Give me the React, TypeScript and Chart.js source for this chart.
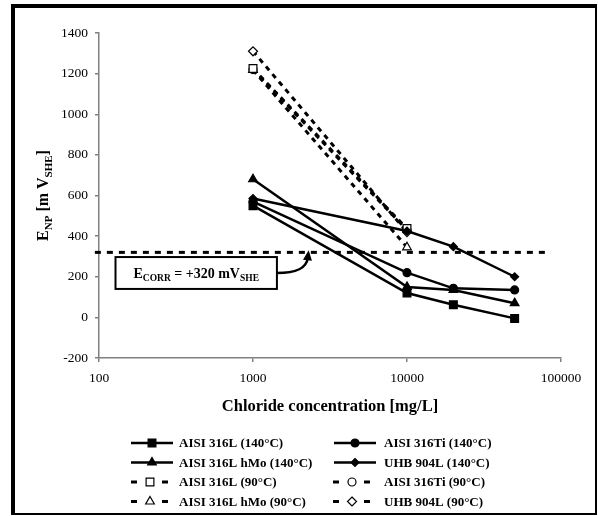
import React, { useEffect, useRef } from "react";
import { Chart, registerables } from "chart.js";
Chart.register(...registerables);

const FONT = '"Liberation Serif", "Times New Roman", Times, serif';

// ---- data ----
const xTickValues = [100, 1000, 10000, 100000];
const conc140 = [1000, 10000, 20000, 50000];
const conc90 = [1000, 10000];

const aisi316L_140 = [550, 120, 62, -5];
const aisi316Ti_140 = [570, 220, 143, 135];
const aisi316LhMo_140 = [680, 150, 135, 70];
const uhb904L_140 = [585, 425, 348, 200];

const aisi316L_90 = [1225, 437];
const aisi316Ti_90 = [1220, 430];
const aisi316LhMo_90 = [1218, 345];
const uhb904L_90 = [1310, 420];

const seriesLabels = [
  "AISI 316L (140°C)",
  "AISI 316Ti (140°C)",
  "AISI 316L hMo (140°C)",
  "UHB 904L (140°C)",
  "AISI 316L (90°C)",
  "AISI 316Ti (90°C)",
  "AISI 316L hMo (90°C)",
  "UHB 904L (90°C)",
];

const E_CORR = 320;
const eCorrSpan = [94, 86000];
const annotBoxX = [128, 1430];
const annotBoxY = [140, 297];
const arrowTip = { x: 2300, y: 330 };

type Marker = "rect" | "circle" | "triangle" | "rectRot";

function drawMarker(ctx: CanvasRenderingContext2D, style: Marker, x: number, y: number, r: number, filled: boolean) {
  ctx.save();
  ctx.beginPath();
  if (style === "rect") {
    const h = r * Math.SQRT1_2;
    ctx.rect(x - h, y - h, 2 * h, 2 * h);
  } else if (style === "circle") {
    ctx.arc(x, y, r, 0, Math.PI * 2);
  } else if (style === "triangle") {
    let a = 0;
    ctx.moveTo(x + Math.sin(a) * r, y - Math.cos(a) * r);
    a += (2 * Math.PI) / 3;
    ctx.lineTo(x + Math.sin(a) * r, y - Math.cos(a) * r);
    a += (2 * Math.PI) / 3;
    ctx.lineTo(x + Math.sin(a) * r, y - Math.cos(a) * r);
    ctx.closePath();
  } else {
    ctx.moveTo(x, y - r);
    ctx.lineTo(x + r, y);
    ctx.lineTo(x, y + r);
    ctx.lineTo(x - r, y);
    ctx.closePath();
  }
  ctx.fillStyle = filled ? "#000" : "#fff";
  ctx.fill();
  ctx.lineWidth = 1.2;
  ctx.strokeStyle = "#000";
  ctx.stroke();
  ctx.restore();
}

type Part = { t: string; s: number; dy: number };
function drawRich(ctx: CanvasRenderingContext2D, parts: Part[], cx: number, cy: number, mainSize: number) {
  let total = 0;
  const widths = parts.map((p) => {
    ctx.font = `bold ${p.s}px ${FONT}`;
    const w = ctx.measureText(p.t).width;
    total += w;
    return w;
  });
  let x = cx - total / 2;
  const base = cy + mainSize * 0.33;
  ctx.textBaseline = "alphabetic";
  ctx.textAlign = "left";
  ctx.fillStyle = "#000";
  parts.forEach((p, i) => {
    ctx.font = `bold ${p.s}px ${FONT}`;
    ctx.fillText(p.t, x, base + p.dy);
    x += widths[i];
  });
}

export default function App() {
  const ref = useRef<HTMLCanvasElement>(null);

  useEffect(() => {
    const canvas = ref.current!;
    const styles: Marker[] = ["rect", "circle", "triangle", "rectRot"];
    const radii = [5.5, 4, 5, 4];
    const radii90 = [5.5, 4, 5, 4.5];
    const vals140 = [aisi316L_140, aisi316Ti_140, aisi316LhMo_140, uhb904L_140];
    const vals90 = [aisi316L_90, aisi316Ti_90, aisi316LhMo_90, uhb904L_90];

    const mk = (label: string, xs: number[], ys: number[], style: Marker, filled: boolean, dashed: boolean, r: number) => ({
      label,
      data: xs.map((x, i) => ({ x, y: ys[i] })),
      borderColor: "#000",
      backgroundColor: filled ? "#000" : "#fff",
      borderWidth: dashed ? 3 : 2.5,
      borderDash: dashed ? [5, 5] : [],
      pointStyle: style,
      pointRadius: r,
      pointBorderWidth: 1.2,
      pointBorderColor: "#000",
      pointBackgroundColor: filled ? "#000" : "#fff",
      tension: 0,
      fill: false,
    });

    const datasets: any[] = [];
    for (let i = 0; i < 4; i++) datasets.push(mk(seriesLabels[i], conc140, vals140[i], styles[i], true, false, radii[i]));
    for (let i = 0; i < 4; i++) datasets.push(mk(seriesLabels[4 + i], conc90, vals90[i], styles[i], false, true, radii90[i]));
    datasets.push({
      label: "E_CORR",
      data: eCorrSpan.map((x) => ({ x, y: E_CORR })),
      borderColor: "#000",
      borderWidth: 3,
      borderDash: [6, 6],
      pointRadius: 0,
      clip: 20,
      fill: false,
    });

    const legendItems = seriesLabels.map((label, i) => ({
      label,
      style: styles[i % 4],
      filled: i < 4,
      dashed: i >= 4,
      r: i < 4 ? radii[i % 4] : radii90[i % 4],
    }));

    const custom = {
      id: "custom",
      afterDraw(chart: any) {
        const ctx: CanvasRenderingContext2D = chart.ctx;
        const xs = chart.scales.x;
        const ys = chart.scales.y;
        ctx.save();

        // y-axis title
        ctx.save();
        ctx.translate(43, (chart.chartArea.top + chart.chartArea.bottom) / 2);
        ctx.rotate(-Math.PI / 2);
        drawRich(
          ctx,
          [
            { t: "E", s: 16, dy: 0 },
            { t: "NP", s: 11, dy: 4 },
            { t: " [m V", s: 16, dy: 0 },
            { t: "SHE", s: 11, dy: 4 },
            { t: "]", s: 16, dy: 0 },
          ],
          0,
          0,
          16
        );
        ctx.restore();

        // annotation box
        const bx0 = xs.getPixelForValue(annotBoxX[0]);
        const bx1 = xs.getPixelForValue(annotBoxX[1]);
        const by0 = ys.getPixelForValue(annotBoxY[1]);
        const by1 = ys.getPixelForValue(annotBoxY[0]);
        ctx.fillStyle = "#fff";
        ctx.fillRect(bx0, by0, bx1 - bx0, by1 - by0);
        ctx.lineWidth = 2;
        ctx.strokeStyle = "#000";
        ctx.strokeRect(bx0, by0, bx1 - bx0, by1 - by0);
        drawRich(
          ctx,
          [
            { t: "E", s: 14, dy: 0 },
            { t: "CORR", s: 9.5, dy: 3 },
            { t: " = +320 mV", s: 14, dy: 0 },
            { t: "SHE", s: 9.5, dy: 3 },
          ],
          (bx0 + bx1) / 2,
          (by0 + by1) / 2,
          14
        );

        // arrow
        const sx = bx1;
        const sy = (by0 + by1) / 2;
        const tx = xs.getPixelForValue(arrowTip.x);
        const ty = ys.getPixelForValue(arrowTip.y);
        const ex = tx - 1;
        const ey = ty + 8;
        ctx.beginPath();
        ctx.moveTo(sx, sy);
        ctx.quadraticCurveTo(tx - 3, sy, ex, ey);
        ctx.lineWidth = 2.5;
        ctx.stroke();
        const ang = Math.atan2(ty - ey, tx - ex);
        const px = Math.cos(ang + Math.PI / 2) * 4.5;
        const py = Math.sin(ang + Math.PI / 2) * 4.5;
        const bxx = tx - Math.cos(ang) * 10;
        const byy = ty - Math.sin(ang) * 10;
        ctx.beginPath();
        ctx.moveTo(tx, ty);
        ctx.lineTo(bxx + px, byy + py);
        ctx.lineTo(bxx - px, byy - py);
        ctx.closePath();
        ctx.fillStyle = "#000";
        ctx.fill();

        // legend
        const rows = [443, 462.5, 482, 501.5];
        const cols = [
          { l0: 131, l1: 173, m: 152, d: [131, 137, 162, 168], dm: 150, tx: 179 },
          { l0: 334, l1: 376, m: 355, d: [333, 339, 364, 370], dm: 352, tx: 384 },
        ];
        legendItems.forEach((it, i) => {
          const row = rows[Math.floor(i / 2)];
          const c = cols[i % 2];
          ctx.strokeStyle = "#000";
          ctx.lineWidth = it.dashed ? 3 : 2.5;
          ctx.beginPath();
          if (it.dashed) {
            ctx.moveTo(c.d[0], row);
            ctx.lineTo(c.d[1], row);
            ctx.moveTo(c.d[2], row);
            ctx.lineTo(c.d[3], row);
          } else {
            ctx.moveTo(c.l0, row);
            ctx.lineTo(c.l1, row);
          }
          ctx.stroke();
          drawMarker(ctx, it.style, it.dashed ? c.dm : c.m, row, it.r, it.filled);
          ctx.font = `bold 13px ${FONT}`;
          ctx.fillStyle = "#000";
          ctx.textAlign = "left";
          ctx.textBaseline = "middle";
          ctx.fillText(it.label, c.tx, row + 1);
        });

        ctx.restore();
      },
    };

    const chart = new Chart(canvas, {
      type: "line",
      data: { datasets },
      plugins: [custom],
      options: {
        responsive: false,
        devicePixelRatio: 1,
        animation: false,
        layout: { padding: { left: 0, right: 37, top: 33, bottom: 96 } },
        plugins: { legend: { display: false }, tooltip: { enabled: false } },
        scales: {
          x: {
            type: "logarithmic",
            min: 100,
            max: 100000,
            afterBuildTicks: (axis: any) => {
              axis.ticks = xTickValues.map((v) => ({ value: v }));
            },
            afterFit: (s: any) => {
              s.height = 62;
            },
            ticks: {
              callback: (v: any) => String(v),
              font: { family: FONT, size: 13.5 },
              color: "#000",
              padding: 8,
              maxRotation: 0,
              autoSkip: false,
            },
            grid: { display: true, drawOnChartArea: false, drawTicks: true, tickLength: 4, tickColor: "#808080", lineWidth: 1.5 },
            border: { display: true, color: "#808080", width: 1.5 },
            title: {
              display: true,
              text: "Chloride concentration [mg/L]",
              font: { family: FONT, size: 16.5, weight: "bold" },
              color: "#000",
              padding: { top: 0, bottom: 3 },
            },
          },
          y: {
            type: "linear",
            min: -200,
            max: 1400,
            afterFit: (s: any) => {
              s.width = 99;
            },
            ticks: {
              stepSize: 200,
              callback: (v: any) => String(v),
              font: { family: FONT, size: 13.5 },
              color: "#000",
              padding: 7,
            },
            grid: { display: true, drawOnChartArea: false, drawTicks: true, tickLength: 4, tickColor: "#808080", lineWidth: 1.5 },
            border: { display: true, color: "#808080", width: 1.5 },
            title: { display: false },
          },
        },
      } as any,
    });
    return () => chart.destroy();
  }, []);

  return (
    <div style={{ position: "fixed", left: 0, top: 0, width: 598, height: 516, background: "#fff" }}>
      <canvas ref={ref} width={598} height={516} style={{ position: "absolute", left: 0, top: 0, width: 598, height: 516 }} />
      <div
        style={{
          position: "absolute",
          left: 11,
          top: 4,
          width: 586,
          height: 511,
          boxSizing: "border-box",
          borderStyle: "solid",
          borderColor: "#000",
          borderWidth: "4px 2px 2px 4px",
          pointerEvents: "none",
        }}
      />
    </div>
  );
}
